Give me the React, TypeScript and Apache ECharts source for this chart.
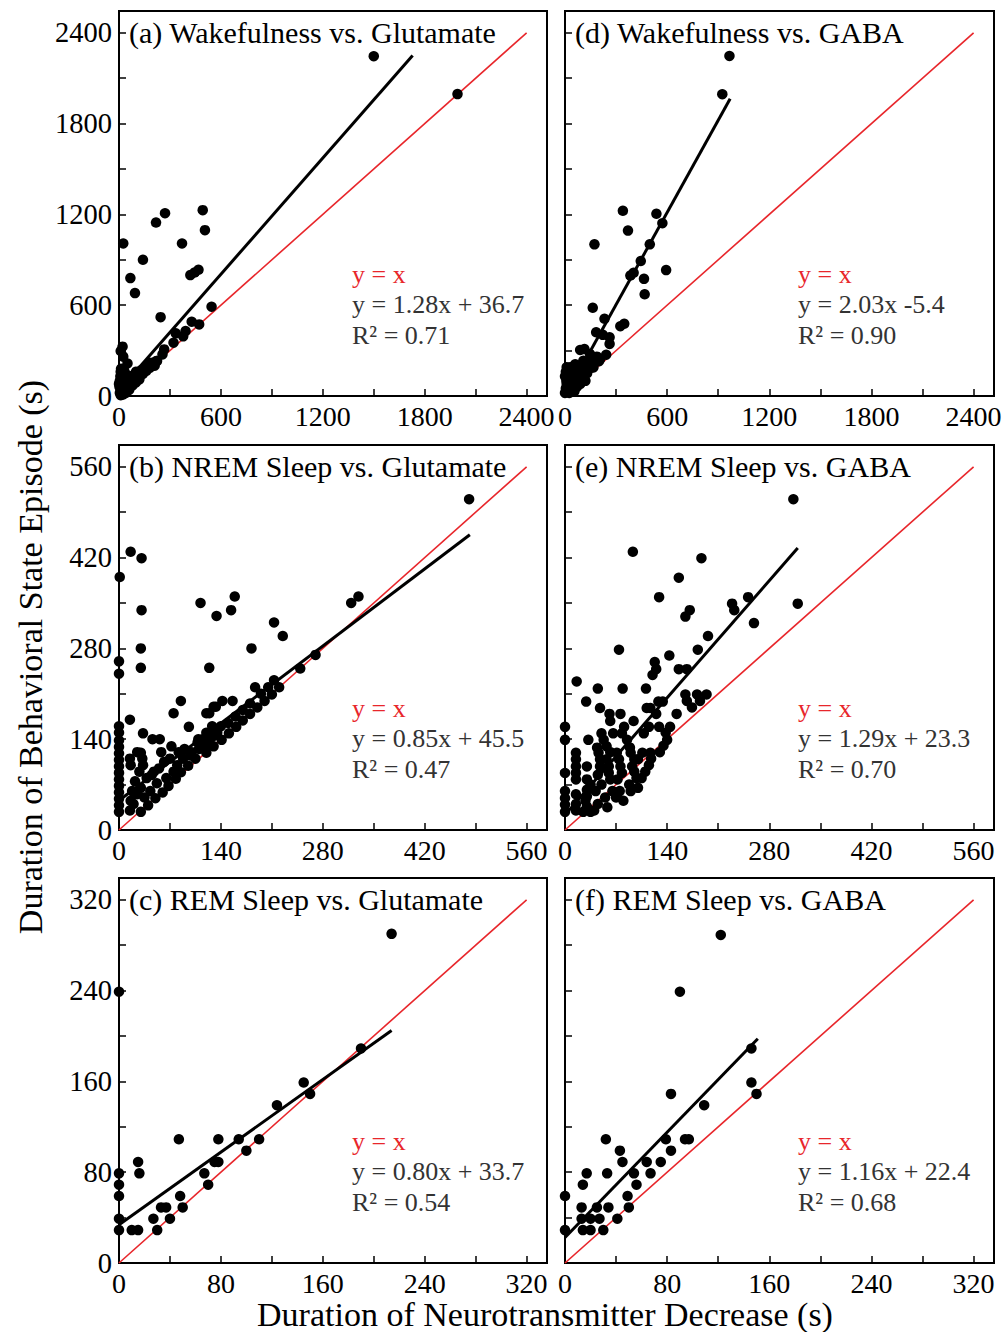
import React, { useEffect, useRef } from "react";
import * as echarts from "echarts";

// ---------- data ----------
const panelTitles = [
  "(a) Wakefulness vs. Glutamate",
  "(b) NREM Sleep vs. Glutamate",
  "(c) REM Sleep vs. Glutamate",
  "(d) Wakefulness vs. GABA",
  "(e) NREM Sleep vs. GABA",
  "(f) REM Sleep vs. GABA",
];
const eqTexts = [
  "y = 1.28x + 36.7",
  "y = 0.85x + 45.5",
  "y = 0.80x + 33.7",
  "y = 2.03x -5.4",
  "y = 1.29x + 23.3",
  "y = 1.16x + 22.4",
];
const r2Texts = ["R² = 0.71", "R² = 0.47", "R² = 0.54", "R² = 0.90", "R² = 0.70", "R² = 0.68"];
const slopes = [1.28, 0.85, 0.8, 2.03, 1.29, 1.16];
const intercepts = [36.7, 45.5, 33.7, -5.4, 23.3, 22.4];
const fitXStart = [0, 0, 0, 5, 0, 0];
const fitXEnd = [1729, 482, 214, 970, 319, 151];
const axisBase = [2400, 560, 320, 2400, 560, 320];
const tickStep = [300, 70, 40, 300, 70, 40];
const labelStep = [600, 140, 80, 600, 140, 80];

const wakeGlu = [
  [1500, 2245], [1993, 1995], [25, 1008], [218, 1146], [271, 1208], [493, 1228], [506, 1096],
  [371, 1008], [141, 900], [67, 779], [94, 680], [420, 799], [445, 816], [468, 834], [245, 521],
  [545, 590], [428, 491], [472, 473], [334, 414], [392, 429], [378, 394], [321, 352], [266, 308],
  [256, 275], [220, 231], [21, 326], [10, 297], [25, 260], [50, 215],
  [5, 20], [10, 40], [15, 60], [20, 30], [25, 50], [30, 80], [35, 45], [40, 60], [45, 90], [50, 70],
  [55, 55], [60, 80], [65, 100], [70, 75], [80, 95], [85, 110], [90, 100], [100, 120], [110, 125],
  [115, 140], [120, 130], [130, 150], [140, 145], [150, 170], [160, 165], [170, 190], [180, 185],
  [190, 205], [200, 215], [210, 200], [5, 100], [8, 130], [10, 160], [12, 180], [15, 120], [0, 80],
  [3, 60], [20, 140], [25, 110], [30, 170], [35, 130], [45, 140], [60, 120], [75, 130], [90, 140],
  [100, 160], [130, 170], [160, 195], [180, 220], [60, 40], [80, 70], [100, 90], [120, 110],
  [40, 20], [25, 10], [10, 5], [224, 231], [205, 222],
];

const nremGlu = [
  [481, 510], [16, 429], [31, 419], [1, 390], [31, 339], [112, 350], [134, 330], [154, 339],
  [159, 360], [319, 350], [329, 360], [213, 320], [225, 299], [30, 280], [30, 250], [124, 250],
  [182, 280], [0, 260], [0, 241], [270, 270], [249, 249], [213, 231], [220, 220], [187, 220],
  [15, 170], [0, 160], [85, 199], [75, 180], [96, 159], [33, 149], [46, 140], [56, 140],
  [124, 180], [130, 190], [133, 190], [142, 199], [156, 199], [120, 180], [109, 140],
  [0, 28], [0, 38], [0, 48], [0, 58], [0, 68], [0, 78], [0, 88], [0, 98], [0, 108], [0, 118],
  [0, 128], [0, 138], [0, 150],
  [15, 30], [16, 45], [18, 60], [20, 40], [22, 75], [25, 55], [28, 90], [30, 28], [30, 65],
  [32, 110], [33, 100], [35, 50], [38, 80], [15, 110], [16, 100], [25, 120], [30, 119],
  [40, 38], [43, 60], [45, 85], [48, 90], [50, 49], [52, 72], [55, 95], [58, 120], [60, 58],
  [62, 105], [65, 80], [68, 68], [70, 110], [72, 129], [75, 90], [78, 79], [80, 100], [82, 120],
  [85, 89], [88, 110], [90, 125], [95, 99], [98, 115], [100, 120], [105, 110], [108, 135],
  [110, 125], [115, 140], [118, 130], [120, 150], [125, 140], [128, 160], [130, 145],
  [120, 119], [130, 129], [141, 139], [151, 149], [161, 159], [170, 169], [180, 179], [190, 189],
  [200, 199], [210, 209], [135, 150], [140, 160], [150, 165], [160, 175], [170, 185], [180, 195],
  [195, 210], [205, 220],
];

const remGlu = [
  [214, 290], [0, 239], [190, 189], [145, 159], [150, 149], [124, 139], [47, 109], [78, 109],
  [94, 109], [110, 109], [100, 99], [75, 89], [78, 89], [67, 79], [70, 69], [15, 89], [16, 79],
  [0, 79], [0, 69], [0, 59], [0, 39], [0, 29], [10, 29], [15, 29], [27, 39], [30, 29], [33, 49],
  [37, 49], [40, 39], [48, 59], [50, 49],
];

const wakeGaba = [
  [966, 2247], [924, 1994], [340, 1224], [370, 1093], [537, 1204], [572, 1142], [173, 1002],
  [498, 1002], [445, 892], [403, 814], [384, 796], [464, 774], [594, 832], [468, 672], [163, 583],
  [232, 510], [183, 421], [222, 404], [262, 388], [262, 344], [325, 461], [348, 477], [89, 304],
  [114, 310], [242, 273], [187, 260], [147, 277], [108, 233], [167, 189], [206, 244],
  [0, 20], [5, 50], [10, 80], [15, 110], [20, 140], [0, 130], [5, 160], [10, 190], [20, 40],
  [30, 70], [35, 100], [40, 130], [45, 160], [50, 190], [55, 30], [60, 60], [65, 90], [70, 120],
  [75, 150], [80, 200], [90, 80], [95, 110], [100, 140], [110, 170], [115, 210], [120, 100],
  [130, 150], [140, 180], [150, 220], [160, 190], [180, 240], [200, 230], [25, 20], [40, 45],
  [50, 75], [70, 60], [85, 130], [100, 175], [60, 210], [30, 190], [15, 60], [8, 100],
];

const nremGaba = [
  [0, 28], [0, 39], [0, 49], [0, 60], [0, 88], [0, 139], [0, 159],
  [15, 30], [15, 40], [15, 55], [15, 78], [15, 88], [15, 98], [15, 109], [15, 119], [16, 229],
  [25, 28], [28, 45], [30, 36], [30, 52], [30, 62], [30, 78], [30, 98], [32, 139], [29, 198],
  [35, 70], [35, 28], [40, 30], [42, 60], [44, 127], [45, 85], [46, 119], [48, 109], [48, 98],
  [45, 218], [48, 188], [50, 149], [45, 40], [50, 70], [53, 139], [57, 129], [57, 109], [60, 98],
  [60, 88], [62, 78], [61, 179], [62, 168], [55, 50], [58, 35], [65, 60], [62, 120], [66, 149],
  [71, 119], [74, 109], [76, 98], [78, 88], [72, 78], [76, 179], [78, 149], [79, 218], [74, 278],
  [81, 159], [75, 60], [80, 45], [70, 50], [85, 139], [89, 127], [90, 119], [95, 109], [100, 109],
  [92, 98], [94, 168], [88, 70], [98, 80], [90, 60], [100, 65], [95, 90], [106, 119], [108, 149],
  [111, 218], [112, 188], [115, 159], [117, 188], [117, 119], [110, 90], [115, 100], [118, 110],
  [120, 239], [105, 80], [123, 259], [125, 248], [125, 179], [128, 198], [129, 159], [134, 198],
  [129, 359], [130, 120], [135, 130], [140, 139], [144, 159], [143, 269], [138, 150], [153, 179],
  [156, 248], [156, 389], [165, 209], [165, 329], [167, 199], [167, 248], [171, 339], [174, 189],
  [181, 209], [185, 199], [182, 278], [187, 419], [194, 209], [196, 299], [229, 349], [232, 339],
  [251, 359], [259, 319], [313, 510], [319, 349], [93, 429],
];

const remGaba = [
  [122, 289], [90, 239], [146, 189], [146, 159], [150, 149], [83, 149], [109, 139], [32, 109],
  [79, 109], [94, 109], [97, 109], [43, 99], [83, 99], [45, 89], [64, 89], [75, 89], [17, 79],
  [33, 79], [54, 79], [67, 79], [14, 69], [56, 69], [0, 59], [49, 59], [13, 49], [25, 49],
  [34, 49], [50, 49], [13, 39], [20, 39], [27, 39], [41, 39], [0, 29], [14, 29], [20, 29], [30, 29],
];

const panelData = [wakeGlu, nremGlu, remGlu, wakeGaba, nremGaba, remGaba];

// ---------- layout ----------
const FONT = '"Liberation Serif", "Times New Roman", serif';
const COL_LEFT = [119, 565];
const COL_WIDTH = [428, 429];
const ROW_TOP = [11, 445, 878];
const ROW_HEIGHT = 385;
const RED = "#e8262b";

export default function App() {
  const ref = useRef<HTMLDivElement>(null);
  useEffect(() => {
    document.body.style.margin = "0";
    const chart = echarts.init(ref.current!, undefined, { renderer: "svg" });
    const grids: any[] = [];
    const xAxes: any[] = [];
    const yAxes: any[] = [];
    const series: any[] = [];
    const graphics: any[] = [];
    for (let i = 0; i < 6; i++) {
      const col = i < 3 ? 0 : 1;
      const row = i % 3;
      const left = COL_LEFT[col];
      const top = ROW_TOP[row];
      const base = axisBase[i];
      const ls = labelStep[i];
      grids.push({
        left,
        top,
        width: COL_WIDTH[col],
        height: ROW_HEIGHT,
        show: true,
        borderColor: "#000",
        borderWidth: 2,
        backgroundColor: "transparent",
      });
      const axisCommon = {
        type: "value",
        min: 0,
        interval: tickStep[i],
        gridIndex: i,
        splitLine: { show: false },
        axisLine: { show: false },
        axisTick: { show: true, inside: true, length: 7, lineStyle: { color: "#000", width: 1.5 } },
      };
      xAxes.push({
        ...axisCommon,
        max: base * 1.05,
        axisLabel: {
          show: true,
          margin: 6,
          color: "#000",
          fontFamily: FONT,
          fontSize: 28,
          formatter: (v: number) => (Math.abs(v % ls) < 1e-6 ? String(v) : ""),
        },
      });
      yAxes.push({
        ...axisCommon,
        max: base * 1.06,
        axisLabel: {
          show: col === 0,
          margin: 7,
          color: "#000",
          fontFamily: FONT,
          fontSize: 28.5,
          formatter: (v: number) => (Math.abs(v % ls) < 1e-6 ? String(v) : ""),
        },
      });
      series.push({
        type: "line",
        xAxisIndex: i,
        yAxisIndex: i,
        data: [
          [0, 0],
          [base, base],
        ],
        symbol: "none",
        lineStyle: { color: RED, width: 1.6 },
        z: 2,
      });
      series.push({
        type: "line",
        xAxisIndex: i,
        yAxisIndex: i,
        data: [
          [fitXStart[i], slopes[i] * fitXStart[i] + intercepts[i]],
          [fitXEnd[i], slopes[i] * fitXEnd[i] + intercepts[i]],
        ],
        symbol: "none",
        lineStyle: { color: "#000", width: 3 },
        z: 3,
      });
      series.push({
        type: "scatter",
        xAxisIndex: i,
        yAxisIndex: i,
        data: panelData[i],
        symbol: "circle",
        symbolSize: 10.5,
        itemStyle: { color: "#000", opacity: 1 },
        clip: false,
        z: 4,
      });
      graphics.push({
        type: "text",
        x: left + 10,
        y: top + 21,
        style: { text: panelTitles[i], font: `30px ${FONT}`, fill: "#000", align: "left", verticalAlign: "middle" },
      });
      const ax = left + 233;
      graphics.push({
        type: "text",
        x: ax,
        y: top + 263,
        style: { text: "y = x", font: `26px ${FONT}`, fill: RED, align: "left", verticalAlign: "middle" },
      });
      graphics.push({
        type: "text",
        x: ax,
        y: top + 293,
        style: { text: eqTexts[i], font: `26px ${FONT}`, fill: "#333", align: "left", verticalAlign: "middle" },
      });
      graphics.push({
        type: "text",
        x: ax,
        y: top + 324,
        style: { text: r2Texts[i], font: `26px ${FONT}`, fill: "#333", align: "left", verticalAlign: "middle" },
      });
    }
    graphics.push({
      type: "text",
      x: 30,
      y: 657,
      rotation: Math.PI / 2,
      style: {
        text: "Duration of Behavioral State Episode (s)",
        font: `34px ${FONT}`,
        fill: "#000",
        align: "center",
        verticalAlign: "middle",
      },
    });
    graphics.push({
      type: "text",
      x: 545,
      y: 1314,
      style: {
        text: "Duration of Neurotransmitter Decrease (s)",
        font: `34px ${FONT}`,
        fill: "#000",
        align: "center",
        verticalAlign: "middle",
      },
    });
    chart.setOption({
      animation: false,
      backgroundColor: "#fff",
      grid: grids,
      xAxis: xAxes,
      yAxis: yAxes,
      series,
      graphic: graphics,
    });
    return () => chart.dispose();
  }, []);
  return <div ref={ref} style={{ width: 1007, height: 1332 }} />;
}
